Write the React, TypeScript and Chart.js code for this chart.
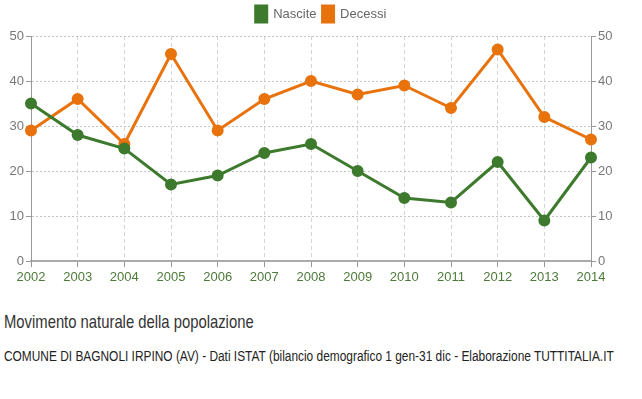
import React, { useEffect, useRef } from "react";
import { Chart, registerables } from "chart.js";

Chart.register(...registerables);

const years = ["2002","2003","2004","2005","2006","2007","2008","2009","2010","2011","2012","2013","2014"];
const nascite = [35, 28, 25, 17, 19, 24, 26, 20, 14, 13, 22, 9, 23];
const decessi = [29, 36, 26, 46, 29, 36, 40, 37, 39, 34, 47, 32, 27];
const seriesLabels = ["Nascite", "Decessi"];
const titleText = "Movimento naturale della popolazione";
const subtitleText = "COMUNE DI BAGNOLI IRPINO (AV) - Dati ISTAT (bilancio demografico 1 gen-31 dic - Elaborazione TUTTITALIA.IT";

const GREEN = "#3d7a2d";
const ORANGE = "#e8720c";
const FONT = "'Liberation Sans', Arial, sans-serif";

export default function App() {
  const ref = useRef<HTMLCanvasElement | null>(null);

  useEffect(() => {
    if (!ref.current) return;
    const legendHeight = {
      id: "legendHeight",
      afterInit(chart: any) {
        const lg = chart.legend;
        if (!lg) return;
        const orig = lg.fit;
        lg.fit = function () {
          orig.call(this);
          this.height = 36;
        };
      },
    };
    const chart = new Chart(ref.current, {
      type: "line",
      data: {
        labels: years,
        datasets: [
          {
            label: seriesLabels[0],
            data: nascite,
            borderColor: GREEN,
            backgroundColor: GREEN,
            borderWidth: 3,
            pointRadius: 4.5,
            pointHoverRadius: 4.5,
            tension: 0,
          },
          {
            label: seriesLabels[1],
            data: decessi,
            borderColor: ORANGE,
            backgroundColor: ORANGE,
            borderWidth: 3,
            pointRadius: 4.5,
            pointHoverRadius: 4.5,
            tension: 0,
          },
        ],
      },
      options: {
        animation: false,
        responsive: false,
        maintainAspectRatio: false,
        layout: { padding: 0 },
        plugins: {
          tooltip: { enabled: false },
          legend: {
            display: true,
            position: "top",
            labels: {
              boxWidth: 11,
              boxHeight: 16,
              padding: 6,
              color: "#666",
              font: { family: FONT, size: 13 },
            },
          },
        },
        scales: {
          x: {
            offset: false,
            grid: {
              display: true,
              color: "#d4d4d4",
              lineWidth: 1,
              drawTicks: true,
              tickLength: 6,
              tickColor: "#999",
            },
            border: { display: true, color: "#aaa", width: 2, dash: [4, 3] },
            ticks: {
              color: "#4d7a3a",
              font: { family: FONT, size: 13 },
              padding: 3,
              maxRotation: 0,
              autoSkip: false,
            },
            afterFit(scale: any) {
              scale.height = 39;
            },
          },
          y: {
            position: "left",
            min: 0,
            max: 50,
            ticks: {
              stepSize: 10,
              color: "#777",
              font: { family: FONT, size: 13 },
              padding: 2,
            },
            grid: {
              color: "#c4c4c4",
              lineWidth: 1,
              drawTicks: true,
              tickLength: 5,
              tickColor: "#999",
            },
            border: { display: true, color: "#999", dash: [2, 2] },
            afterFit(scale: any) {
              scale.width = 31;
            },
          },
          y2: {
            position: "right",
            min: 0,
            max: 50,
            ticks: {
              stepSize: 10,
              color: "#777",
              font: { family: FONT, size: 13 },
              padding: 2,
            },
            grid: {
              drawOnChartArea: false,
              drawTicks: true,
              tickLength: 5,
              tickColor: "#999",
            },
            border: { display: true, color: "#999" },
            afterFit(scale: any) {
              scale.width = 51;
            },
          },
        },
      },
      plugins: [legendHeight],
    } as any);
    return () => chart.destroy();
  }, []);

  return (
    <div style={{ position: "absolute", left: 0, top: 0, width: 642, height: 399, background: "#fff", overflow: "hidden" }}>
      <canvas ref={ref} width={642} height={300} style={{ display: "block", width: 642, height: 300 }} />
      <div
        style={{
          position: "absolute",
          left: 4,
          top: 311,
          fontFamily: FONT,
          fontSize: 19,
          color: "#333",
          whiteSpace: "nowrap",
          transform: "scaleX(0.78)",
          transformOrigin: "left top",
        }}
      >
        {titleText}
      </div>
      <div
        style={{
          position: "absolute",
          left: 4,
          top: 348,
          fontFamily: FONT,
          fontSize: 14,
          color: "#222",
          whiteSpace: "nowrap",
          transform: "scaleX(0.85)",
          transformOrigin: "left top",
        }}
      >
        {subtitleText}
      </div>
    </div>
  );
}
